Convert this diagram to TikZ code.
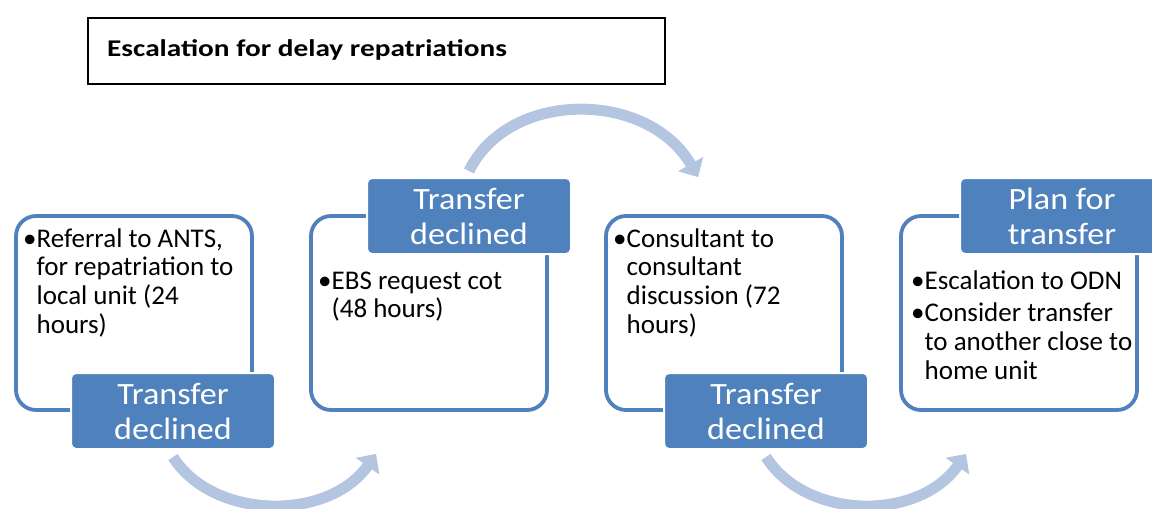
\documentclass[tikz,border=0pt]{standalone}
\usepackage{fontspec}
\setmainfont{Carlito}
\newfontfamily\titlefont[FakeStretch=1.22]{Carlito}
\newfontfamily\labelfont[FakeStretch=1.1]{Carlito}
\usetikzlibrary{arrows.meta}
\definecolor{stageblue}{RGB}{79,129,189}
\definecolor{arrowblue}{RGB}{180,197,226}
\tikzset{
 stagebox/.style={draw=stageblue,line width=3.8pt,rounded corners=20pt,fill=white,
  minimum width=236pt,minimum height=194pt,inner sep=0pt},
 stagelabel/.style={fill=stageblue,draw=white,line width=2pt,rounded corners=5pt,
  minimum width=204pt,minimum height=76pt,inner sep=0pt,text=white,align=center,
  font=\labelfont\fontsize{31}{35}\selectfont},
 itemtext/.style={anchor=north west,inner sep=0pt,font=\fontsize{27}{28.7}\selectfont},
 flowarrow/.style={draw=arrowblue,line width=11pt,-{Triangle[length=15pt,width=28pt]}}
}
\begin{document}
\begin{tikzpicture}[x=1pt,y=-1pt]
 \useasboundingbox (0,0) rectangle (1152,509);
 % title
 \node[draw=black,line width=1.2pt,minimum width=577pt,minimum height=66pt,inner sep=0pt] (title) at (376.5,51) {};
 \node[anchor=west,inner sep=0pt,font=\titlefont\bfseries\fontsize{24}{28}\selectfont] (titletext) at (107,50) {Escalation for delay repatriations};
 % stages
 \node[stagebox] (box1) at (134,313) {};
 \node[stagebox] (box2) at (429,313) {};
 \node[stagebox] (box3) at (724,313) {};
 \node[stagebox] (box4) at (1019,313) {};
 \node[itemtext] (text1) at (23,227) {\begin{tabular}{@{}l@{}l@{}}
  •&Referral to ANTS,\\ &for repatriation to\\ &local unit (24\\ &hours)\end{tabular}};
 \node[itemtext] (text2) at (318,269) {\begin{tabular}{@{}l@{}l@{}}
  •&EBS request cot\\ &(48 hours)\end{tabular}};
 \node[itemtext] (text3) at (613,227) {\begin{tabular}{@{}l@{}l@{}}
  •&Consultant to\\ &consultant\\ &discussion (72\\ &hours)\end{tabular}};
 \node[itemtext] (text4) at (911,269) {\begin{tabular}{@{}l@{}l@{}}
  •&Escalation to ODN\\[4pt] •&Consider transfer\\ &to another close to\\ &home unit\end{tabular}};
 \node[stagelabel] (lab1) at (173,411) {Transfer\\declined};
 \node[stagelabel] (lab2) at (469,216) {Transfer\\declined};
 \node[stagelabel] (lab3) at (766,411) {Transfer\\declined};
 \node[stagelabel] (lab4) at (1062,216) {Plan for\\transfer};
 % arrows between stages
 \draw[flowarrow] ([yshift=-7pt]lab1.south) .. controls +(40,63) and +(-48,68) .. ([xshift=67pt,yshift=-42pt]box2.south west);
 \draw[flowarrow] ([yshift=6pt]lab2.north) .. controls +(40,-82) and +(-50,-87) .. ([xshift=94pt,yshift=37pt]box3.north west);
 \draw[flowarrow] ([yshift=-7pt]lab3.south) .. controls +(40,63) and +(-48,68) .. ([xshift=67pt,yshift=-42pt]box4.south west);
\end{tikzpicture}
\end{document}
